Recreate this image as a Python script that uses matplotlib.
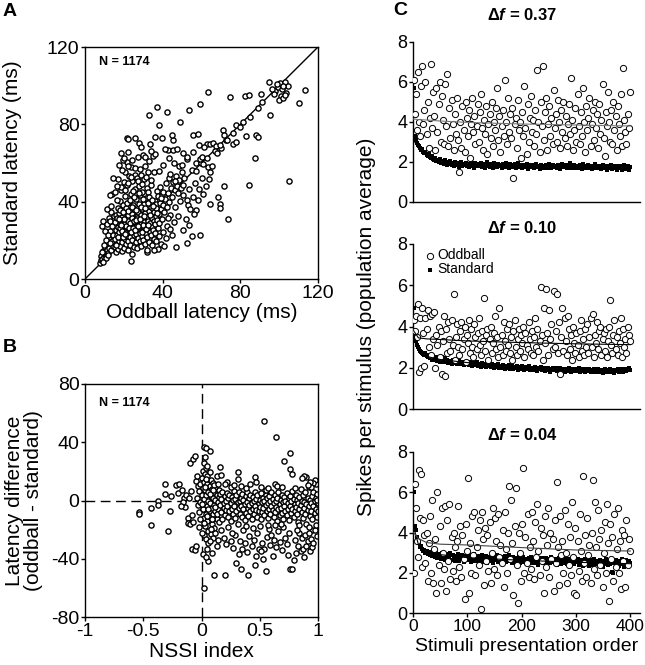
import numpy as np
import matplotlib
matplotlib.use("Agg")
import matplotlib.pyplot as plt

plt.rcParams['font.family'] = ['Liberation Sans', 'DejaVu Sans']
plt.rcParams['mathtext.fontset'] = 'custom'
plt.rcParams['mathtext.rm'] = 'Liberation Sans:bold'
plt.rcParams['mathtext.it'] = 'Liberation Sans:italic:bold'
plt.rcParams['mathtext.bf'] = 'Liberation Sans:bold'

# ---------------- panel A: (oddball latency, standard latency) in ms ----------------
latency_pairs = np.array([
    (7.5,8.2),(8.1,9.6),(8.4,12.1),(9.0,10.3),(9.2,14.5),(9.6,11.2),(10.1,13.0),(10.3,16.8),(10.8,12.0),(11.2,15.1),
    (11.5,18.9),(11.9,13.7),(12.2,21.5),(12.6,16.2),(12.9,24.8),(13.3,14.9),(13.7,19.6),(14.0,27.3),(14.4,17.1),(8.8,27.5),
    (9.5,30.2),(10.4,24.9),(11.1,28.7),(12.4,31.5),(13.6,34.8),(10.6,20.4),(11.8,22.6),(12.8,18.4),(13.1,29.9),(14.6,23.0),
    (9.9,17.5),(8.5,14.2),(14.8,32.5),(13.9,44.0),(12.7,43.5),(11.4,36.2),(13.2,38.0),(10.9,10.8),(9.3,8.9),(12.0,12.5),
    (15.2,16.3),(15.5,20.8),(15.8,25.4),(15.3,29.6),(15.9,33.1),(16.2,13.9),(16.4,18.2),(16.7,22.7),(16.9,27.0),(16.5,31.8),
    (16.8,36.5),(17.1,15.4),(17.3,19.9),(17.6,24.1),(17.8,28.6),(17.4,33.9),(17.9,40.2),(18.1,17.0),(18.4,21.3),(18.6,25.8),
    (18.9,30.4),(18.2,35.7),(18.7,45.8),(19.0,14.6),(19.3,19.2),(19.5,23.3),(19.8,27.9),(19.2,32.1),(19.6,38.4),(19.9,50.3),
    (20.2,16.1),(20.4,20.7),(20.7,25.0),(20.9,29.5),(20.3,34.2),(20.6,42.7),(20.8,55.1),(21.1,18.3),(21.4,22.4),(21.6,26.8),
    (21.9,31.2),(21.2,36.9),(21.7,48.5),(21.5,60.4),(22.0,15.2),(22.3,19.8),(22.5,24.2),(22.8,28.3),(22.2,33.0),(22.6,39.7),
    (22.9,53.2),(23.1,17.6),(23.4,21.9),(23.6,26.1),(23.9,30.7),(23.3,35.3),(23.7,44.1),(23.5,57.8),(24.0,13.1),(24.2,20.3),
    (24.5,24.6),(24.7,29.0),(24.1,33.6),(24.8,38.2),(24.4,50.9),(25.0,16.7),(25.3,22.8),(25.5,27.2),(25.8,31.9),(25.2,36.4),
    (25.6,46.6),(25.9,54.0),(26.1,18.9),(26.4,23.5),(26.6,28.0),(26.9,32.6),(26.2,41.3),(26.7,52.4),(27.0,15.8),(27.2,21.0),
    (27.5,25.3),(27.8,29.8),(27.3,34.5),(27.6,39.0),(27.9,48.0),(28.1,19.5),(28.4,24.0),(28.6,28.4),(28.9,33.2),(28.2,43.6),
    (28.7,53.6),(29.0,17.3),(29.3,22.1),(29.5,26.5),(29.8,30.9),(29.2,36.1),(29.6,45.2),(30.0,20.2),(30.3,24.9),(30.5,29.3),
    (30.8,34.0),(30.2,38.6),(30.6,51.5),(31.1,18.0),(31.4,23.2),(31.6,27.7),(31.9,32.3),(31.3,41.8),(31.7,47.3),(32.0,21.5),
    (32.3,26.0),(32.5,30.2),(32.8,35.0),(32.2,44.9),(32.7,55.6),(33.1,19.1),(33.4,24.4),(33.6,28.9),(33.9,37.5),(33.2,42.2),
    (34.0,22.6),(34.3,27.1),(34.5,31.6),(34.8,36.0),(34.2,48.8),(35.1,25.5),(35.4,29.9),(35.6,34.4),(35.9,40.5),(35.3,20.9),
    (36.1,28.2),(36.4,32.7),(36.6,38.8),(36.9,45.7),(36.3,23.8),(37.2,30.6),(37.5,35.3),(37.8,42.9),(37.4,26.6),(38.1,33.5),
    (38.4,39.3),(38.7,47.6),(38.3,28.8),(39.2,36.2),(39.5,43.5),(39.8,31.0),(40.1,38.1),(40.4,45.0),(40.7,34.6),(41.2,41.2),
    (41.6,49.4),(42.0,37.2),(42.5,44.3),(43.1,52.0),(43.5,40.0),(44.2,47.1),(44.8,42.5),(45.5,50.2),(46.1,45.9),(46.8,53.5),
    (47.3,48.3),(48.0,44.6),(48.6,51.2),(49.3,47.0),(50.1,55.3),(51.0,52.5),
    (16.0,17.5),(17.0,21.8),(18.0,26.3),(19.0,24.9),(20.0,28.7),(21.0,27.6),(22.0,30.1),(23.0,28.9),(24.0,31.8),(25.0,30.0),
    (26.0,26.9),(27.0,31.3),(28.0,27.0),(29.0,28.2),(30.0,27.8),(21.3,24.0),(22.7,26.6),(24.6,26.2),(26.3,30.4),(28.3,30.9),
    (19.4,21.6),(20.5,23.1),(23.8,24.1),(25.7,25.1),(27.4,27.3),(29.4,24.3),(31.2,25.9),(32.6,28.1),(18.5,28.0),(20.1,31.0),
    (22.1,35.2),(24.3,37.4),(26.5,35.8),(28.8,37.3),(30.9,36.5),(17.7,30.8),(19.7,34.9),(21.8,39.3),(23.2,41.0),(25.4,42.4),
    (27.7,44.5),(29.9,41.5),(32.4,39.4),(34.6,41.0),(36.8,36.5),(38.9,41.7),(30.4,32.6),(33.3,33.1),(35.0,37.9),(37.0,33.9),
    (16.3,40.8),(18.3,47.5),(20.4,46.1),(22.4,49.6),(24.9,45.3),(27.1,50.8),(29.1,49.0),(31.5,53.0),(33.8,51.0),(15.6,44.8),
    (17.2,51.7),(19.1,56.4),(21.9,58.6),(23.6,52.8),(26.0,57.2),(28.5,56.9),(30.7,58.2),(32.9,60.8),(35.5,55.3),(24.3,61.8),
    (27.4,63.3),(29.7,64.0),(22.3,65.9),(19.8,61.5),(17.5,58.9),(14.5,52.0),(16.6,48.2),
    (32.1,14.2),(34.7,17.5),(36.5,19.4),(38.2,22.1),(40.3,24.5),(42.2,27.3),(39.0,18.0),(41.5,21.0),(43.8,25.8),(45.6,29.5),
    (44.0,33.0),(46.5,37.0),(37.6,15.6),(35.7,14.9),(42.7,31.4),(47.8,32.6),(48.9,40.4),(50.3,43.7),(52.4,41.1),(53.0,38.3),
    (54.3,36.0),(55.6,42.2),(57.1,35.6),(58.0,40.7),(56.2,33.4),(51.8,31.0),(47.1,16.8),(52.3,18.6),(55.0,22.5),(59.1,22.9),
    (50.6,25.3),(53.8,27.8),(44.9,22.9),(40.8,16.9),(31.7,15.1),(23.5,9.5),(45.8,60.0),(48.2,58.3),(52.6,62.1),(54.9,56.5),
    (57.4,59.9),(59.8,60.2),(60.4,52.1),(63.5,57.9),(64.1,51.5),(64.6,55.3),(62.2,48.0),(58.6,46.5),(61.0,44.2),(56.6,49.4),
    (53.5,46.8),(50.5,48.6),
    (21.4,72.7),(22.0,72.2),(25.9,72.9),(27.6,70.1),(36.2,73.6),(39.6,72.7),(45.1,71.9),(30.9,63.3),(35.1,63.8),(36.3,64.5),
    (42.5,66.5),(45.2,66.8),(47.6,67.3),(34.1,66.2),(18.7,65.4),(20.3,62.8),(38.2,79.9),(48.9,81.3),(32.9,84.8),(36.9,89.0),
    (42.3,86.5),(53.7,87.3),(59.1,90.3),(63.4,96.8),(74.6,94.2),(82.5,94.7),(84.6,95.1),(90.5,95.6),(94.8,101.9),(55.7,74.4),
    (58.3,74.8),(62.6,70.0),(64.3,69.8),(66.0,70.1),(70.3,67.6),(67.6,68.9),(69.3,69.5),(72.5,71.9),(76.3,69.8),(77.7,71.0),
    (71.1,77.0),(77.7,79.4),(81.5,81.3),(76.3,75.3),(71.5,74.4),(55.7,65.8),(52.3,63.3),(50.6,65.0),(59.3,62.0),(60.1,63.1),
    (88.3,74.4),(89.1,73.6),(82.8,74.1),(87.6,62.7),(73.9,31.1),(69.4,38.9),(64.6,38.9),(69.4,36.6),(71.5,48.1),(68.6,42.6),
    (104.9,50.7),(84.7,48.6),(95.1,84.8),(110.0,90.8),(113.1,98.0),(98.0,97.0),(99.2,99.5),(100.3,101.6),(101.5,98.3),(102.8,102.0),
    (103.6,96.4),(100.8,94.5),(99.7,92.8),(102.2,93.7),(104.3,99.9),(97.2,95.6),(98.8,100.7),(101.9,100.0),(103.0,95.0),(96.5,98.5),
    (66.7,66.0),(63.0,62.6),(72.9,72.0),(80.0,78.5),(85.0,84.0),(89.2,88.5),(91.0,91.5),(57.3,56.0),(60.7,59.6),(44.0,54.5),
    (46.3,50.5),(49.7,58.8),(58.8,69.3),(61.5,68.1),(67.9,65.0),(65.2,58.5),(43.5,62.5),(40.2,59.0),(38.0,55.7),(41.0,67.2),
    (33.7,70.0),(28.9,68.2),(45.0,74.5),
])

# ---------------- panel B: (NSSI index, latency difference) ----------------
nssi_pairs = np.array([
    (-0.54,-8.0),(-0.54,-9.5),(-0.43,-5.0),(-0.43,-16.5),(-0.37,0.0),(-0.37,-3.0),(-0.31,11.5),(-0.31,4.5),(-0.29,-21.0),(-0.27,-7.0),
    (-0.26,3.0),(-0.22,10.5),(-0.20,5.0),(-0.19,11.0),(-0.17,7.5),(-0.15,2.0),(-0.14,-4.5),(-0.12,-12.0),(-0.12,-15.5),(-0.10,-16.0),
    (-0.13,4.0),(-0.11,1.5),(-0.09,6.5),(-0.10,25.5),(-0.07,28.5),(-0.06,30.5),(-0.08,-33.0),(-0.06,-34.0),(-0.05,-31.5),(-0.16,-1.0),
    (-0.18,-3.5),(-0.08,-10.0),(-0.07,-14.5),(-0.05,13.5),(-0.04,17.0),(-0.03,10.0),
    (-0.04,2.0),(-0.03,-3.0),(-0.02,6.5),(-0.02,-8.0),(-0.01,11.0),(-0.01,-1.0),(0.00,15.5),(0.00,4.0),(0.01,-5.5),(0.01,20.0),
    (0.01,8.5),(0.02,-12.0),(0.02,1.0),(0.02,13.0),(0.03,-2.5),(0.03,18.0),(0.03,-17.5),(0.03,7.0),(0.04,22.5),(0.04,-9.0),
    (0.04,3.5),(0.05,11.5),(0.05,-4.0),(0.05,-14.0),(0.05,16.5),(0.06,0.0),(0.06,-21.0),(0.06,6.0),(0.07,-7.0),(0.07,10.0),
    (0.07,19.5),(0.07,-1.5),(0.08,-11.5),(0.08,3.0),(0.08,14.0),(0.09,-5.0),(0.09,8.0),(0.09,-16.0),(0.10,1.5),(0.10,-9.5),
    (0.10,12.0),(0.11,-3.0),(0.11,5.5),(0.11,-19.0),(0.12,-7.5),(0.12,9.0),(0.12,0.5),(0.13,-12.5),(0.13,4.0),(0.13,17.0),
    (0.14,-1.0),(0.14,-6.0),(0.15,7.5),(0.15,-14.5),(0.15,2.5),(0.02,-24.0),(0.04,-26.5),(0.06,-29.0),(0.08,-23.0),(0.10,-25.5),
    (0.12,-22.5),(0.14,-27.0),(0.01,-6.0),(0.03,9.5),(0.05,-10.5),(0.07,4.5),(0.09,-13.0),(0.11,10.5),(0.13,-9.0),(0.00,-2.5),
    (0.02,-15.5),(0.04,14.5),(0.06,-5.5),(0.08,-19.5),(0.10,7.0),(0.12,-4.5),(0.14,11.5),(-0.02,-18.0),(-0.01,-12.5),(0.00,-22.5),
    (0.02,26.0),(0.05,24.0),(0.03,30.0),(0.02,37.0),(0.04,36.0),(0.07,34.0),(0.11,-51.0),(0.02,-60.0),(0.01,-37.0),(0.06,-41.5),
    (0.04,-39.0),(0.05,-33.5),(0.09,-36.0),(0.13,-31.5),(0.07,-27.5),
    (0.16,-3.0),(0.16,4.5),(0.17,-8.0),(0.17,1.0),(0.18,-13.0),(0.18,6.0),(0.19,-5.0),(0.19,-1.5),(0.20,3.0),(0.20,-10.0),
    (0.21,0.0),(0.21,-6.5),(0.22,5.0),(0.22,-3.5),(0.23,-11.0),(0.23,1.5),(0.24,-7.5),(0.24,4.0),(0.25,-2.0),(0.25,-14.0),
    (0.26,2.5),(0.26,-5.5),(0.27,-9.0),(0.27,0.5),(0.28,6.5),(0.28,-4.0),(0.29,-12.0),(0.29,1.0),(0.30,-7.0),(0.30,3.5),
    (0.31,-1.0),(0.31,-16.0),(0.32,5.5),(0.32,-5.0),(0.33,-9.5),(0.33,0.0),(0.34,2.0),(0.34,-3.5),(0.35,-11.5),(0.35,4.5),
    (0.36,-6.0),(0.36,0.5),(0.37,-2.5),(0.37,-13.5),(0.38,3.0),(0.38,-8.5),(0.39,-1.0),(0.39,5.5),(0.40,-5.0),(0.40,-10.5),
    (0.41,1.5),(0.41,-3.0),(0.42,-7.5),(0.42,4.0),(0.43,-1.5),(0.43,-12.5),(0.44,2.5),(0.44,-5.5),(0.45,-9.0),(0.45,0.0),
    (0.46,-3.5),(0.46,6.0),(0.47,-6.5),(0.47,1.0),(0.48,-11.0),(0.48,3.5),(0.49,-2.0),(0.49,-7.0),(0.50,0.5),(0.50,-4.5),
    (0.51,-13.0),(0.51,5.0),(0.52,-1.0),(0.52,-8.0),(0.53,2.0),(0.53,-5.0),(0.54,-10.0),(0.54,-0.5),(0.55,4.0),(0.55,-3.0),
    (0.56,-7.0),(0.56,1.5),(0.57,-12.0),(0.57,-1.5),(0.58,3.0),(0.58,-5.5),(0.59,-9.0),(0.59,0.0),(0.60,-3.5),(0.60,5.5),
    (0.61,-6.5),(0.61,1.0),(0.62,-11.5),(0.62,-2.0),(0.63,3.5),(0.63,-8.0),(0.64,-0.5),(0.64,-4.5),(0.65,-14.0),(0.65,2.0),
    (0.66,-6.0),(0.66,6.0),(0.67,-2.5),(0.67,-10.0),(0.68,0.5),(0.68,-5.0),(0.69,4.0),(0.69,-8.5),(0.70,-1.0),(0.70,-12.5),
    (0.71,2.5),(0.71,-4.0),(0.72,-7.0),(0.72,0.0),(0.73,5.0),(0.73,-10.0),(0.74,-2.0),(0.74,-6.0),(0.75,1.5),(0.75,-13.5),
    (0.76,-3.5),(0.76,3.0),(0.77,-8.5),(0.77,-0.5),(0.78,-5.5),(0.78,6.5),(0.79,-11.0),(0.79,1.0),(0.80,-2.5),(0.80,-7.5),
    (0.81,4.0),(0.81,-4.5),(0.82,-9.5),(0.82,0.5),(0.83,-1.5),(0.83,-14.5),(0.84,2.5),(0.84,-6.0),(0.85,-3.0),(0.85,8.0),
    (0.86,-8.0),(0.86,0.0),(0.87,-12.0),(0.87,3.5),(0.88,-5.0),(0.88,-1.0),(0.89,5.5),(0.89,-9.0),(0.90,-2.5),(0.90,-16.0),
    (0.91,1.5),(0.91,-6.5),(0.92,-4.0),(0.92,9.5),(0.93,-10.5),(0.93,0.5),(0.94,-1.5),(0.94,-7.0),(0.95,3.0),(0.95,-13.0),
    (0.96,-3.5),(0.96,6.0),(0.97,-8.5),(0.97,-0.5),(0.98,2.0),(0.98,-5.5),(0.99,-11.0),(0.99,4.5),(1.00,-2.0),(1.00,-7.5),
    (0.99,0.5),(0.98,11.5),(0.97,14.0),(0.96,12.0),(0.95,-20.0),(0.94,9.0),(0.93,13.0),(0.92,-18.0),(0.91,10.5),(0.90,16.0),
    (0.88,17.0),(0.86,15.5),(0.84,-22.5),
    (0.16,23.0),(0.17,17.8),(0.22,12.5),(0.25,9.0),(0.31,19.5),(0.31,15.0),(0.34,10.0),(0.38,8.5),(0.42,11.5),(0.46,16.0),
    (0.47,12.5),(0.51,9.5),(0.55,7.5),(0.57,8.5),(0.63,11.0),(0.65,10.0),(0.69,9.0),(0.71,27.0),(0.76,21.7),(0.78,18.5),
    (0.76,32.7),(0.64,43.5),(0.54,54.5),(0.80,8.5),(0.20,11.0),(0.28,10.5),
    (0.17,-20.0),(0.19,-26.0),(0.21,-30.0),(0.23,-18.5),(0.25,-28.0),(0.27,-32.5),(0.29,-24.0),(0.30,-43.0),(0.33,-27.5),(0.34,-47.0),
    (0.35,-33.0),(0.36,-20.5),(0.37,-29.0),(0.39,-35.5),(0.40,-51.0),(0.41,-24.5),(0.43,-31.0),(0.44,-19.0),(0.45,-27.0),(0.47,-38.0),
    (0.48,-22.0),(0.49,-33.5),(0.50,-17.5),(0.52,-29.5),(0.53,-40.5),(0.54,-33.6),(0.55,-48.5),(0.56,-25.0),(0.58,-19.5),(0.59,-30.5),
    (0.60,-23.5),(0.62,-27.0),(0.63,-17.0),(0.64,-32.0),(0.66,-21.0),(0.67,-28.5),(0.69,-34.0),(0.70,-18.0),(0.72,-25.5),(0.73,-30.0),
    (0.75,-22.0),(0.76,-47.0),(0.78,-47.0),(0.79,-41.0),(0.80,-27.0),(0.81,-36.0),(0.82,-20.5),(0.83,-31.0),(0.85,-35.0),(0.86,-26.0),
    (0.87,-33.5),(0.88,-38.5),(0.89,-24.0),(0.90,-31.5),(0.91,-28.0),(0.92,-22.5),(0.93,-34.5),(0.94,-26.5),(0.95,-32.0),(0.97,-20.0),
    (0.96,-29.0),(0.98,-17.0),(0.99,-24.5),(0.20,-51.0),(0.26,-22.0),(0.32,-36.5),(0.38,-17.5),(0.46,-44.0),(0.51,-35.0),(0.57,-16.5),
    (0.61,-38.0),(0.68,-16.0),(0.74,-37.5),(0.84,-16.5),
])

# ---------------- panel C: spikes per stimulus, every second trial ----------------
trials = np.arange(1, 400, 2)

std_037 = [
    5.7, 3.3, 3.1, 2.95, 2.85, 2.8, 2.7, 2.6, 2.65, 2.5,
    2.45, 2.5, 2.35, 2.3, 2.4, 2.25, 2.2, 2.3, 2.15, 2.1,
    2.2, 2.05, 2.1, 2.0, 2.15, 1.95, 2.05, 2.0, 1.9, 2.1,
    1.95, 1.85, 2.0, 1.9, 2.05, 1.85, 1.95, 1.8, 2.0, 1.9,
    1.85, 1.95, 1.75, 1.9, 2.0, 1.8, 1.9, 1.85, 1.95, 1.8,
    1.9, 1.75, 1.85, 2.0, 1.8, 1.9, 1.7, 1.95, 1.85, 1.8,
    1.9, 1.8, 1.95, 1.75, 1.85, 1.9, 1.7, 1.85, 2.0, 1.8,
    1.75, 1.9, 1.85, 1.7, 1.95, 1.8, 1.85, 1.75, 1.9, 1.8,
    1.85, 1.7, 1.9, 1.8, 1.75, 1.95, 1.8, 1.85, 1.7, 1.9,
    1.8, 1.75, 1.85, 1.9, 1.7, 1.8, 1.95, 1.75, 1.85, 1.8,
    1.7, 1.85, 1.8, 1.75, 1.9, 1.65, 1.8, 1.85, 1.75, 1.8,
    1.85, 1.7, 1.8, 1.9, 1.75, 1.8, 1.65, 1.85, 1.8, 1.7,
    1.8, 1.75, 1.85, 1.7, 1.8, 1.9, 1.75, 1.7, 1.85, 1.8,
    1.75, 1.8, 1.7, 1.85, 1.75, 1.65, 1.8, 1.9, 1.75, 1.8,
    1.85, 1.7, 1.75, 1.8, 1.95, 1.7, 1.8, 1.75, 1.85, 1.7,
    1.8, 1.75, 1.7, 1.85, 1.8, 1.65, 1.9, 1.75, 1.8, 1.7,
    1.75, 1.85, 1.7, 1.8, 1.65, 1.8, 1.75, 1.9, 1.7, 1.8,
    1.7, 1.8, 1.75, 1.65, 1.85, 1.7, 1.8, 1.75, 1.6, 1.8,
    1.75, 1.7, 1.85, 1.65, 1.75, 1.8, 1.7, 1.6, 1.8, 1.75,
    1.7, 1.8, 1.6, 1.75, 1.85, 1.65, 1.7, 1.8, 1.6, 1.75,
]
odd_037 = [
    6.1, 4.4, 5.4, 3.6, 6.5, 4.0, 3.3, 5.8, 6.8, 3.9,
    4.6, 6.0, 3.4, 5.0, 2.7, 4.2, 6.9, 3.7, 5.5, 4.3,
    2.6, 5.7, 3.5, 4.9, 6.0, 3.0, 5.3, 4.1, 2.9, 5.9,
    3.8, 6.4, 2.8, 4.7, 3.2, 5.1, 3.9, 2.6, 4.4, 3.4,
    5.2, 3.1, 1.5, 4.0, 2.7, 4.8, 3.6, 2.5, 5.0, 4.2,
    3.3, 4.6, 2.2, 3.9, 5.2, 3.5, 4.3, 2.9, 3.8, 4.9,
    3.0, 4.5, 5.4, 3.7, 2.6, 4.1, 3.4, 4.8, 2.4, 3.9,
    4.4, 3.2, 5.0, 2.8, 4.0, 3.6, 4.7, 5.7, 3.1, 4.3,
    2.5, 3.8, 4.6, 3.3, 6.1, 4.0, 2.9, 5.2, 3.5, 4.4,
    3.2, 4.7, 1.2, 3.9, 4.2, 2.7, 5.1, 3.6, 4.0, 2.2,
    4.5, 3.3, 5.8, 3.7, 2.4, 4.9, 3.0, 4.2, 5.3, 3.5,
    4.1, 2.8, 4.6, 3.4, 6.6, 4.0, 2.5, 5.0, 3.8, 6.8,
    3.1, 4.5, 5.2, 2.6, 3.9, 4.8, 3.3, 4.2, 2.9, 5.6,
    3.7, 4.4, 3.0, 5.1, 4.0, 2.7, 4.6, 3.5, 5.0, 3.2,
    4.3, 2.8, 3.9, 4.9, 3.4, 6.2, 4.1, 2.6, 3.6, 4.7,
    3.0, 5.4, 3.8, 2.9, 4.5, 3.3, 5.7, 4.0, 2.5, 4.8,
    3.6, 4.2, 5.2, 2.8, 3.9, 4.6, 3.1, 5.0, 3.7, 4.4,
    2.7, 4.9, 3.4, 4.1, 5.9, 3.2, 2.3, 4.5, 3.8, 5.5,
    4.0, 3.0, 4.6, 2.9, 5.0, 3.6, 4.3, 2.6, 4.8, 3.9,
    3.3, 5.4, 2.8, 6.7, 4.1, 3.5, 2.9, 4.4, 3.7, 5.5,
]

std_010 = [
    4.9, 3.6, 3.3, 3.1, 3.0, 2.9, 2.8, 2.75, 2.7, 2.65,
    2.6, 2.7, 2.55, 2.5, 2.6, 2.45, 2.5, 2.4, 2.55, 2.45,
    2.4, 2.5, 2.35, 2.45, 2.3, 2.4, 2.5, 2.35, 2.3, 2.45,
    2.3, 2.4, 2.25, 2.35, 2.3, 2.2, 2.4, 2.3, 2.25, 2.35,
    2.2, 2.3, 2.35, 2.2, 2.25, 2.3, 2.15, 2.25, 2.3, 2.2,
    2.25, 2.15, 2.3, 2.2, 2.1, 2.25, 2.2, 2.15, 2.3, 2.1,
    2.2, 2.15, 2.05, 2.25, 2.1, 2.2, 2.15, 2.05, 2.2, 2.1,
    2.15, 2.05, 2.2, 2.1, 2.0, 2.15, 2.1, 2.05, 2.2, 2.0,
    2.1, 2.0, 2.15, 2.05, 1.95, 2.1, 2.05, 2.0, 2.15, 1.95,
    2.05, 2.1, 1.95, 2.05, 2.0, 2.1, 1.9, 2.05, 2.0, 1.95,
    2.1, 2.0, 1.9, 2.05, 1.95, 2.0, 2.1, 1.9, 2.0, 1.95,
    2.0, 1.9, 2.05, 1.95, 1.85, 2.0, 1.95, 2.05, 1.9, 2.0,
    1.95, 1.85, 2.0, 1.9, 2.0, 1.95, 1.8, 1.95, 2.0, 1.9,
    1.95, 2.0, 1.85, 1.95, 1.9, 2.0, 1.85, 1.9, 1.95, 1.8,
    1.9, 1.95, 1.85, 2.0, 1.9, 1.8, 1.95, 1.9, 1.85, 1.95,
    1.85, 1.9, 2.0, 1.8, 1.9, 1.95, 1.85, 1.9, 1.8, 1.95,
    1.9, 1.85, 1.95, 1.8, 1.9, 1.85, 1.95, 1.8, 1.9, 1.85,
    1.95, 1.8, 1.9, 1.85, 1.75, 1.9, 1.95, 1.85, 1.8, 1.9,
    1.85, 1.95, 1.8, 1.9, 1.85, 1.75, 1.9, 1.85, 1.95, 1.8,
    1.9, 1.85, 1.95, 1.8, 1.9, 1.95, 1.85, 1.9, 2.0, 1.9,
]
odd_010 = [
    4.3, 3.8, 4.5, 3.5, 5.1, 1.8, 4.4, 2.0, 4.9, 3.7,
    2.1, 4.4, 3.9, 4.8, 3.0, 4.5, 2.6, 4.6, 3.4, 4.7,
    2.0, 3.6, 3.1, 4.0, 2.5, 3.8, 1.7, 3.3, 4.5, 1.6,
    3.9, 2.7, 4.2, 3.4, 2.8, 4.3, 3.1, 5.6, 2.4, 3.5,
    4.1, 3.0, 2.6, 3.8, 4.2, 2.9, 3.4, 4.0, 2.3, 3.6,
    3.2, 4.3, 2.7, 3.9, 3.0, 2.5, 4.1, 3.5, 2.9, 3.7,
    4.4, 3.1, 2.6, 3.8, 3.3, 5.4, 2.8, 3.6, 3.9, 2.4,
    3.4, 4.0, 2.7, 3.2, 3.7, 4.5, 2.9, 3.5, 2.5, 4.9,
    3.0, 3.6, 2.6, 4.2, 3.3, 2.8, 3.9, 3.1, 4.1, 2.7,
    3.5, 2.4, 3.8, 4.3, 3.0, 2.6, 3.4, 3.9, 2.8, 3.6,
    3.2, 4.0, 2.5, 3.7, 3.1, 2.9, 4.2, 3.4, 2.7, 3.8,
    2.6, 3.5, 4.4, 3.0, 3.9, 2.8, 3.3, 5.9, 3.6, 2.4,
    4.9, 3.2, 5.8, 3.7, 2.6, 4.8, 3.4, 4.1, 2.9, 5.7,
    3.0, 3.8, 5.6, 2.7, 4.2, 1.7, 3.5, 4.9, 2.8, 4.4,
    3.3, 2.6, 4.5, 3.9, 2.9, 3.6, 2.4, 4.0, 3.2, 2.7,
    3.7, 3.1, 2.5, 3.8, 4.3, 2.8, 3.4, 2.6, 3.9, 3.0,
    4.1, 2.7, 3.5, 4.4, 3.0, 4.6, 2.5, 3.6, 3.2, 4.2,
    2.9, 3.8, 4.0, 2.6, 3.4, 3.7, 2.8, 3.9, 2.5, 3.3,
    4.0, 5.3, 3.1, 2.7, 3.6, 4.3, 2.9, 3.5, 2.6, 3.8,
    3.2, 4.4, 2.5, 3.9, 3.0, 3.4, 2.7, 4.0, 3.6, 3.3,
]

std_004 = [
    6.0, 4.3, 4.1, 3.8, 3.6, 3.5, 3.3, 3.35, 3.2, 3.1,
    3.15, 3.0, 3.1, 2.95, 3.05, 2.9, 3.0, 2.85, 3.1, 2.9,
    2.8, 3.0, 2.75, 2.95, 2.85, 2.7, 3.0, 2.8, 2.9, 2.65,
    2.85, 2.95, 2.7, 2.8, 3.0, 2.65, 2.9, 2.75, 2.6, 2.85,
    2.7, 2.95, 2.6, 2.8, 2.75, 2.9, 2.55, 2.85, 2.7, 2.8,
    2.65, 2.9, 2.75, 2.55, 2.8, 2.7, 2.95, 2.6, 2.75, 2.85,
    2.6, 2.8, 2.7, 2.9, 2.55, 2.75, 2.65, 2.85, 2.5, 2.7,
    2.8, 2.6, 2.75, 2.5, 2.85, 2.65, 2.7, 2.9, 2.55, 2.75,
    2.6, 2.8, 2.5, 2.7, 2.85, 2.55, 2.75, 2.65, 2.9, 2.6,
    2.7, 2.5, 2.8, 2.65, 2.55, 2.75, 2.6, 2.85, 2.5, 2.7,
    2.6, 2.8, 2.55, 2.7, 2.45, 2.65, 2.75, 2.5, 2.8, 2.6,
    2.7, 2.5, 2.65, 2.8, 2.55, 2.4, 2.7, 2.6, 2.75, 2.5,
    2.65, 2.55, 2.75, 2.45, 2.6, 2.7, 2.5, 2.8, 2.55, 2.65,
    2.5, 2.7, 2.4, 2.6, 2.75, 2.55, 2.45, 2.65, 2.5, 2.7,
    2.6, 2.45, 2.7, 2.55, 2.35, 2.65, 2.5, 2.75, 2.45, 2.6,
    2.55, 2.7, 2.4, 2.6, 2.5, 2.65, 2.35, 2.55, 2.7, 2.45,
    2.6, 2.5, 2.35, 2.65, 2.55, 2.4, 2.7, 2.5, 2.6, 2.45,
    2.55, 2.4, 2.65, 2.5, 2.3, 2.6, 2.45, 2.7, 2.5, 2.4,
    2.6, 2.45, 2.55, 2.05, 2.0, 2.5, 2.65, 2.4, 2.55, 2.35,
    2.6, 2.45, 2.7, 2.5, 2.3, 2.55, 2.65, 2.4, 2.6, 2.5,
]
odd_004 = [
    2.0, 6.4, 5.2, 3.6, 2.8, 7.1, 4.7, 6.9, 2.3, 4.6,
    3.9, 2.5, 4.0, 1.6, 3.5, 4.8, 2.0, 5.6, 1.5, 3.2,
    3.7, 1.0, 6.0, 2.4, 4.3, 1.5, 5.2, 3.0, 2.2, 5.3,
    1.1, 4.6, 2.6, 5.4, 1.7, 3.8, 2.1, 4.0, 3.3, 1.6,
    3.6, 5.3, 2.3, 4.3, 1.8, 3.9, 2.7, 0.7, 4.4, 3.1,
    6.7, 1.0, 3.5, 2.0, 4.8, 2.9, 5.0, 1.9, 3.3, 4.1,
    2.4, 4.6, 0.2, 5.0, 3.7, 1.4, 4.2, 2.6, 3.9, 2.1,
    4.5, 1.5, 3.0, 5.2, 2.2, 4.7, 3.6, 1.9, 4.9, 2.8,
    3.4, 2.5, 4.1, 1.3, 5.0, 3.2, 2.0, 4.0, 6.3, 2.7,
    5.6, 3.5, 0.9, 4.3, 6.2, 2.4, 0.5, 4.0, 3.0, 1.6,
    4.4, 7.2, 2.0, 3.8, 2.5, 4.9, 1.8, 3.3, 2.2, 5.0,
    3.6, 1.7, 4.5, 2.8, 5.4, 3.1, 1.9, 4.2, 2.6, 3.9,
    1.0, 4.8, 2.3, 3.4, 5.2, 1.8, 4.0, 2.7, 3.7, 1.1,
    4.6, 2.5, 6.5, 3.3, 1.4, 4.8, 2.9, 3.6, 2.0, 5.1,
    3.0, 1.5, 4.4, 2.4, 3.8, 1.9, 5.5, 2.8, 1.0, 4.2,
    0.9, 3.6, 2.1, 4.9, 3.1, 1.6, 6.8, 2.5, 3.9, 1.8,
    4.7, 2.9, 3.4, 1.5, 4.0, 6.6, 2.2, 5.5, 3.3, 1.9,
    5.1, 3.7, 2.4, 4.1, 1.3, 3.0, 4.5, 2.0, 5.4, 3.5,
    0.6, 4.4, 2.7, 3.8, 1.6, 4.9, 2.3, 3.2, 5.2, 2.0,
    3.6, 1.2, 4.1, 2.6, 3.9, 1.3, 4.6, 2.4, 3.7, 3.1,
]

# fitted curves read at a few trial numbers
fit_x = [1, 10, 25, 50, 100, 200, 300, 400]
fit_odd_037 = [4.15, 4.12, 4.1, 4.05, 3.98, 3.9, 3.85, 3.8]
fit_std_037 = [3.1, 2.7, 2.3, 2.05, 1.9, 1.82, 1.77, 1.72]
fit_odd_010 = [3.8, 3.45, 3.4, 3.37, 3.3, 3.22, 3.16, 3.12]
fit_std_010 = [3.6, 2.85, 2.55, 2.4, 2.25, 2.05, 1.95, 1.9]
fit_odd_004 = [4.0, 3.7, 3.5, 3.42, 3.38, 3.25, 3.13, 3.08]
fit_std_004 = [4.3, 3.4, 3.05, 2.9, 2.75, 2.62, 2.52, 2.45]

panels_c = [
    ("0.37", odd_037, std_037, fit_odd_037, fit_std_037, '#777777'),
    ("0.10", odd_010, std_010, fit_odd_010, fit_std_010, 'black'),
    ("0.04", odd_004, std_004, fit_odd_004, fit_std_004, '#444444'),
]

W, H = 645, 665
fig = plt.figure(figsize=(W / 100, H / 100), dpi=100)


def px_axes(l, t, r, b):
    return fig.add_axes([l / W, 1 - b / H, (r - l) / W, (b - t) / H])


def style_ax(ax, fs):
    ax.tick_params(direction='out', length=3, width=1, labelsize=fs, pad=1)
    for s in ax.spines.values():
        s.set_linewidth(1.0)


# ---------- A ----------
axA = px_axes(85, 47, 318, 279)
axA.plot([0, 120], [0, 120], color='black', lw=1, zorder=1)
axA.scatter(latency_pairs[:, 0], latency_pairs[:, 1], s=14, facecolors='white',
            edgecolors='black', linewidths=1.0, zorder=2)
axA.set_xlim(0, 120)
axA.set_ylim(0, 120)
axA.set_xticks([0, 40, 80, 120])
axA.set_yticks([0, 40, 80, 120])
style_ax(axA, 14)
axA.set_xlabel("Oddball latency (ms)", fontsize=15, labelpad=1)
axA.set_ylabel("Standard latency (ms)", fontsize=15)
axA.yaxis.set_label_coords(-0.27, 0.5)
axA.text(0.06, 0.935, "N = 1174", transform=axA.transAxes, fontsize=9,
         fontweight='bold', va='center')

# ---------- B ----------
axB = px_axes(85, 384, 318, 617)
axB.plot([-1, 1], [0, 0], color='black', lw=1, ls=(0, (7, 4)), zorder=1)
axB.plot([0, 0], [-80, 80], color='black', lw=1, ls=(0, (7, 4)), zorder=1)
axB.scatter(nssi_pairs[:, 0], nssi_pairs[:, 1], s=14, facecolors='white',
            edgecolors='black', linewidths=1.0, zorder=2)
axB.set_xlim(-1, 1)
axB.set_ylim(-80, 80)
axB.set_xticks([-1, -0.5, 0, 0.5, 1])
axB.set_xticklabels(['-1', '-0.5', '0', '0.5', '1'])
axB.set_yticks([-80, -40, 0, 40, 80])
axB.set_yticklabels(['-80', '-40', '0', '40', '80'])
style_ax(axB, 14)
axB.set_xlabel("NSSI index", fontsize=15, labelpad=2)
axB.set_ylabel("Latency difference\n(oddball - standard)", fontsize=15,
               linespacing=1.0)
axB.yaxis.set_label_coords(-0.18, 0.5)
axB.text(0.06, 0.92, "N = 1174", transform=axB.transAxes, fontsize=9,
         fontweight='bold', va='center')

# ---------- C ----------
c_boxes = [(42, 202), (244, 409), (452, 613)]
title_y = [15, 228, 435]
for i, (df, odd, std, fodd, fstd, fcol) in enumerate(panels_c):
    t, b = c_boxes[i]
    ax = px_axes(413, t, 640, b)
    ax.scatter(trials, std, s=12, marker='s', color='black', linewidths=0,
               zorder=2, label='Standard')
    ax.scatter(trials, odd, s=20, facecolors='white', edgecolors='black',
               linewidths=0.7, zorder=3, label='Oddball')
    ax.plot(fit_x, fstd, color='black', lw=0.8, zorder=4)
    ax.plot(fit_x, fodd, color=fcol, lw=0.8, zorder=4)
    ax.set_xlim(0, 418)
    ax.set_ylim(0, 8)
    ax.set_yticks([0, 2, 4, 6, 8])
    ax.spines['top'].set_visible(False)
    ax.spines['right'].set_visible(False)
    style_ax(ax, 13)
    ax.set_xticks([0, 100, 200, 300, 400])
    if i < 2:
        ax.tick_params(axis='x', length=0, labelbottom=False)
    else:
        ax.tick_params(axis='x', labelsize=12.5)
        ax.set_xlabel("Stimuli presentation order", fontsize=14, labelpad=3)
    if i == 1:
        h, l = ax.get_legend_handles_labels()
        ax.legend(h[::-1], l[::-1], loc='upper left', bbox_to_anchor=(0.03, 0.99),
                  frameon=False, fontsize=10, handletextpad=0.05, handlelength=1.0,
                  labelspacing=0.0, borderaxespad=0, borderpad=0.2)
    fig.text(522 / W, 1 - title_y[i] / H, r'$\Delta\mathit{f}$ = ' + df,
             ha='center', va='center', fontsize=12, fontweight='bold')

fig.text(366 / W, 1 - 327 / H, "Spikes per stimulus (population average)",
         rotation=90, ha='center', va='center', fontsize=15)

# panel letters
fig.text(3 / W, 1 - 3 / H, "A", fontsize=14, fontweight='bold', va='top', ha='left')
fig.text(3 / W, 1 - 339 / H, "B", fontsize=14, fontweight='bold', va='top', ha='left')
fig.text(393 / W, 1 - 2 / H, "C", fontsize=14, fontweight='bold', va='top', ha='left')

fig.savefig("out.png", dpi=100)
